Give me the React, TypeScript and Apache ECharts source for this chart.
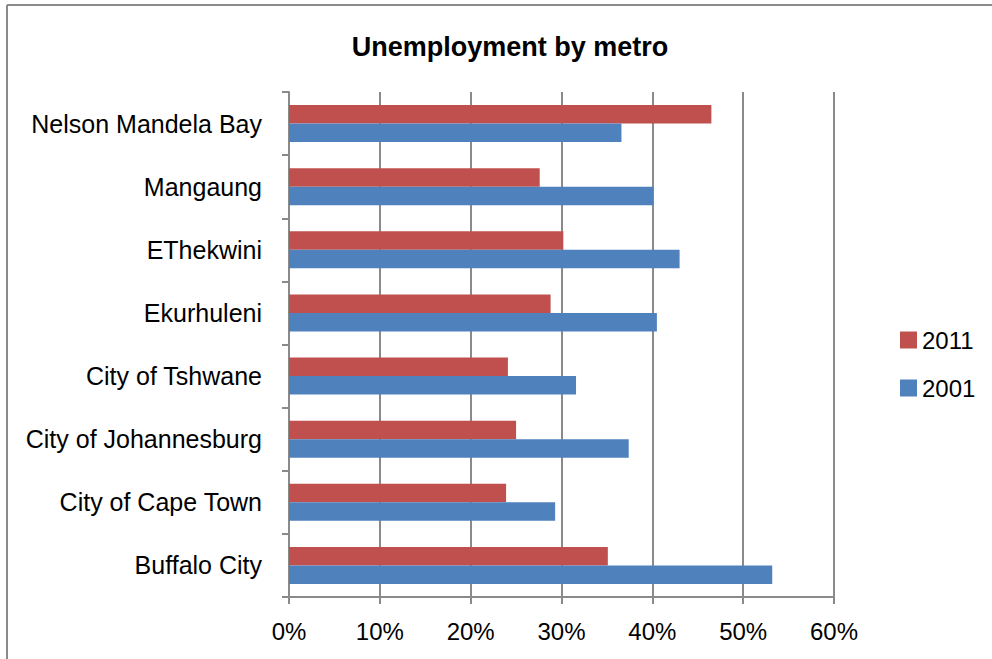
import React, { useEffect, useRef } from "react";
import * as echarts from "echarts";

const categories = [
  "Buffalo City",
  "City of Cape Town",
  "City of Johannesburg",
  "City of Tshwane",
  "Ekurhuleni",
  "EThekwini",
  "Mangaung",
  "Nelson Mandela Bay",
];
const values2001 = [53.2, 29.3, 37.4, 31.6, 40.5, 43.0, 40.1, 36.6];
const values2011 = [35.1, 23.9, 25.0, 24.1, 28.8, 30.2, 27.6, 46.5];
const xTicks = [0, 10, 20, 30, 40, 50, 60];

const FONT = "'Liberation Sans', Arial, sans-serif";
const GRAY = "#8a8a8a";

export default function App() {
  const ref = useRef<HTMLDivElement>(null);
  useEffect(() => {
    document.body.style.margin = "0";
    if (!ref.current) return;
    const chart = echarts.init(ref.current, null, { renderer: "svg" });
    chart.setOption({
      animation: false,
      backgroundColor: "#ffffff",
      textStyle: { fontFamily: FONT },
      title: {
        text: "Unemployment by metro",
        left: 505,
        textAlign: "center",
        top: 28,
        textStyle: { fontFamily: FONT, fontSize: 27, fontWeight: "bold", color: "#000" },
      },
      legend: {
        orient: "vertical",
        left: 895,
        top: 323,
        data: ["2011", "2001"],
        icon: "rect",
        itemWidth: 17,
        itemHeight: 17,
        itemGap: 24,
        textStyle: { fontFamily: FONT, fontSize: 24, color: "#000" },
      },
      grid: { left: 289, right: 158, top: 92, bottom: 62, containLabel: false },
      xAxis: {
        type: "value",
        min: xTicks[0],
        max: xTicks[xTicks.length - 1],
        interval: 10,
        axisLine: { show: true, lineStyle: { color: GRAY, width: 2 } },
        axisTick: { show: true, length: 7, lineStyle: { color: GRAY, width: 2 } },
        splitLine: { show: true, lineStyle: { color: GRAY, width: 2 } },
        axisLabel: {
          margin: 22,
          fontFamily: FONT,
          fontSize: 24,
          color: "#000",
          formatter: (v: number) => v + "%",
        },
      },
      yAxis: {
        type: "category",
        data: categories,
        axisLine: { show: true, lineStyle: { color: GRAY, width: 2 } },
        axisTick: { show: true, length: 7, lineStyle: { color: GRAY, width: 2 } },
        axisLabel: { margin: 27, fontFamily: FONT, fontSize: 25, color: "#000" },
      },
      series: [
        {
          name: "2011",
          type: "bar",
          data: values2011,
          barWidth: 18.5,
          barGap: "0%",
          itemStyle: { color: "#C0504D" },
        },
        {
          name: "2001",
          type: "bar",
          data: values2001,
          barWidth: 18.5,
          barGap: "0%",
          itemStyle: { color: "#4F81BD" },
        },
      ],
      graphic: [
        { type: "line", shape: { x1: 7, y1: 5, x2: 992, y2: 5 }, style: { stroke: GRAY, lineWidth: 2 } },
        { type: "line", shape: { x1: 7, y1: 5, x2: 7, y2: 659 }, style: { stroke: GRAY, lineWidth: 2 } },
      ],
    });
    return () => chart.dispose();
  }, []);
  return <div ref={ref} style={{ width: 992, height: 659 }} />;
}
